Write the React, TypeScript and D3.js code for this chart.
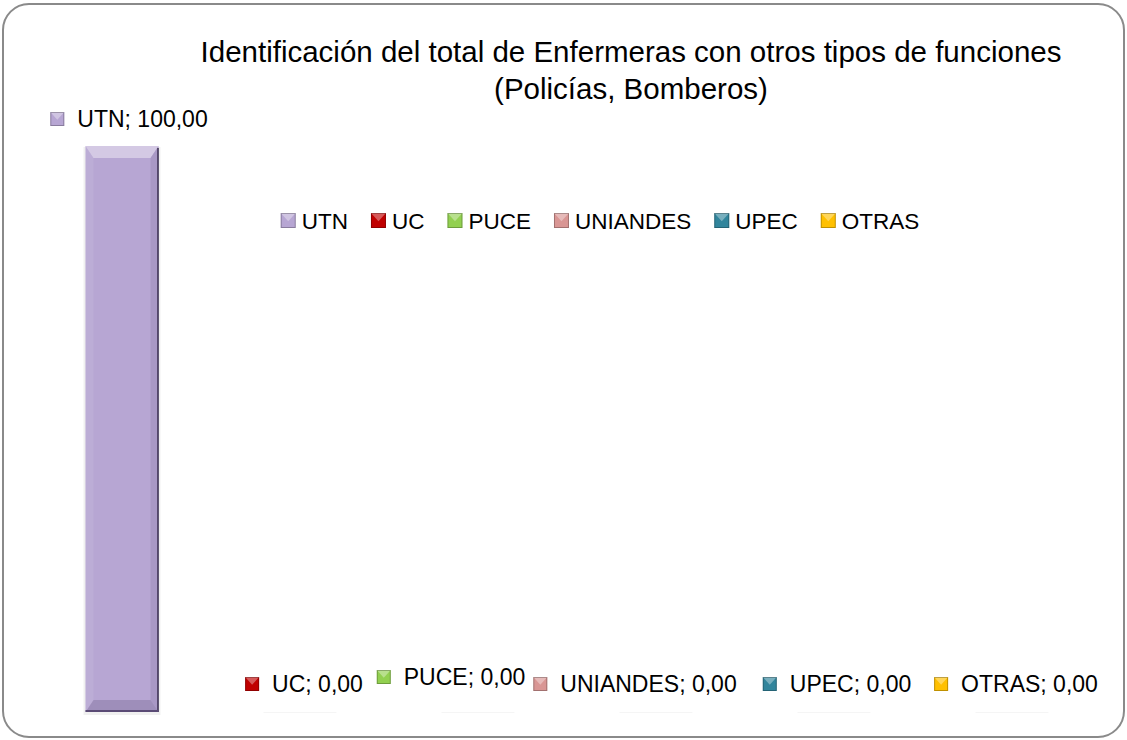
import { useEffect, useRef } from "react";
import { select, scaleBand, scaleLinear } from "d3";

const categories = ["UTN", "UC", "PUCE", "UNIANDES", "UPEC", "OTRAS"];
const values = [100, 0, 0, 0, 0, 0];
const colors = ["#b7a6d3", "#c00000", "#92d050", "#d99694", "#31859c", "#ffc000"];
const titleLines = [
  "Identificación del total de Enfermeras con otros tipos de funciones",
  "(Policías, Bomberos)",
];
// label nudges (Excel moved the zero labels so they don't overlap)
const labelShift = [7, 4, -27, -21, 3, 4];
const labelLift = [0, 0, 7, 0, 0, 0];

const W = 1127;
const H = 740;
const FONT = "'Liberation Sans', Arial, sans-serif";

const fmt = (v: number) => v.toFixed(2).replace(".", ",");

const drawMarker = (g: any, x: number, y: number, s: number, c: string) => {
  g.append("rect").attr("x", x).attr("y", y).attr("width", s).attr("height", s).attr("fill", c);
  g.append("path")
    .attr("d", `M${x},${y}L${x + s},${y}L${x + s / 2},${y + s * 0.55}Z`)
    .attr("fill", "#fff")
    .attr("fill-opacity", 0.35);
  g.append("rect")
    .attr("x", x + 0.5)
    .attr("y", y + 0.5)
    .attr("width", s - 1)
    .attr("height", s - 1)
    .attr("fill", "none")
    .attr("stroke", "#000")
    .attr("stroke-opacity", 0.25);
};

const drawChart = (ref: SVGSVGElement) => {
  const svg = select(ref);
  svg.selectAll("*").remove();

  svg
    .append("rect")
    .attr("x", 3)
    .attr("y", 4)
    .attr("width", 1121)
    .attr("height", 733)
    .attr("rx", 26)
    .attr("fill", "#fff")
    .attr("stroke", "#8a8a8a")
    .attr("stroke-width", 2);

  const x = scaleBand().domain(categories).range([33, 1101]).paddingInner(0.59).paddingOuter(0.295);
  const y = scaleLinear().domain([0, 100]).range([712, 146]);

  // title
  svg
    .append("g")
    .selectAll("text")
    .data(titleLines)
    .join("text")
    .attr("x", 631)
    .attr("y", (d, i) => 62 + i * 37)
    .attr("text-anchor", "middle")
    .attr("font-family", FONT)
    .attr("font-size", 29.5)
    .attr("fill", "#000")
    .text((d) => d);

  // bars
  const bars = svg.append("g");
  categories.forEach((c, i) => {
    const x0 = x(c)!;
    const bw = x.bandwidth();
    const y0 = y(values[i]);
    const y1 = y(0);
    const h = y1 - y0;
    if (h <= 0) {
      bars
        .append("line")
        .attr("x1", x0)
        .attr("x2", x0 + bw)
        .attr("y1", y1 + 0.5)
        .attr("y2", y1 + 0.5)
        .attr("stroke", "#000")
        .attr("stroke-opacity", 0.04);
      return;
    }
    const bt = 12;
    const bs = 8;
    bars.append("rect").attr("x", x0 - 2).attr("y", y0 + 1).attr("width", bw + 4).attr("height", h + 2).attr("fill", "#000").attr("fill-opacity", 0.06);
    bars.append("rect").attr("x", x0).attr("y", y0).attr("width", bw).attr("height", h).attr("fill", colors[i]);
    bars
      .append("path")
      .attr("d", `M${x0},${y0}L${x0 + bw},${y0}L${x0 + bw - bs},${y0 + bt}L${x0 + bs},${y0 + bt}Z`)
      .attr("fill", "#fff")
      .attr("fill-opacity", 0.4);
    bars
      .append("path")
      .attr("d", `M${x0},${y1}L${x0 + bw},${y1}L${x0 + bw - bs},${y1 - bt}L${x0 + bs},${y1 - bt}Z`)
      .attr("fill", "#4b3b66")
      .attr("fill-opacity", 0.22);
    bars
      .append("path")
      .attr("d", `M${x0},${y0}L${x0 + bs},${y0 + bt}L${x0 + bs},${y1 - bt}L${x0},${y1}Z`)
      .attr("fill", "#fff")
      .attr("fill-opacity", 0.08);
    bars
      .append("path")
      .attr("d", `M${x0 + bw},${y0}L${x0 + bw - bs},${y0 + bt}L${x0 + bw - bs},${y1 - bt}L${x0 + bw},${y1}Z`)
      .attr("fill", "#4b3b66")
      .attr("fill-opacity", 0.12);
    bars
      .append("line")
      .attr("x1", x0 + bw - 0.5)
      .attr("x2", x0 + bw - 0.5)
      .attr("y1", y0 + 2)
      .attr("y2", y1)
      .attr("stroke", "#3a2f4f")
      .attr("stroke-width", 1.5);
    bars
      .append("line")
      .attr("x1", x0)
      .attr("x2", x0 + bw)
      .attr("y1", y1 - 1)
      .attr("y2", y1 - 1)
      .attr("stroke", "#5a4b75")
      .attr("stroke-width", 2);
  });

  // data labels
  const labels = svg.append("g");
  categories.forEach((c, i) => {
    const cx = x(c)! + x.bandwidth() / 2;
    const txt = `${c}; ${fmt(values[i])}`;
    const lg = labels.append("g");
    const t = lg
      .append("text")
      .attr("font-family", FONT)
      .attr("font-size", 23)
      .attr("fill", "#000")
      .text(txt);
    const tw = (t.node() as SVGTextElement).getComputedTextLength();
    const total = 27 + tw;
    const left = cx - total / 2 + labelShift[i];
    const baseY = (values[i] > 0 ? y(values[i]) - 19 : y(0) - 20) - labelLift[i];
    drawMarker(lg, left, baseY - 15, 14, colors[i]);
    t.attr("x", left + 27).attr("y", baseY);
  });

  // legend
  const legend = svg.append("g");
  const widths: number[] = [];
  categories.forEach((c) => {
    const t = legend
      .append("text")
      .attr("font-family", FONT)
      .attr("font-size", 22.5)
      .attr("fill", "#000")
      .text(c);
    widths.push((t.node() as SVGTextElement).getComputedTextLength());
  });
  const ms = 15;
  const gap = 23;
  const totalW = widths.reduce((s, w) => s + ms + 6 + w, 0) + gap * (widths.length - 1);
  let cur = 600 - totalW / 2;
  legend.selectAll("text").each(function (d, i) {
    drawMarker(legend, cur, 213, ms, colors[i]);
    select(this).attr("x", cur + ms + 6).attr("y", 229);
    cur += ms + 6 + widths[i] + gap;
  });
};

export default function App() {
  const ref = useRef<SVGSVGElement>(null);
  useEffect(() => {
    if (ref.current) drawChart(ref.current);
  }, []);
  return (
    <div style={{ position: "absolute", left: 0, top: 0 }}>
      <svg ref={ref} width={W} height={H} style={{ display: "block" }} />
    </div>
  );
}
